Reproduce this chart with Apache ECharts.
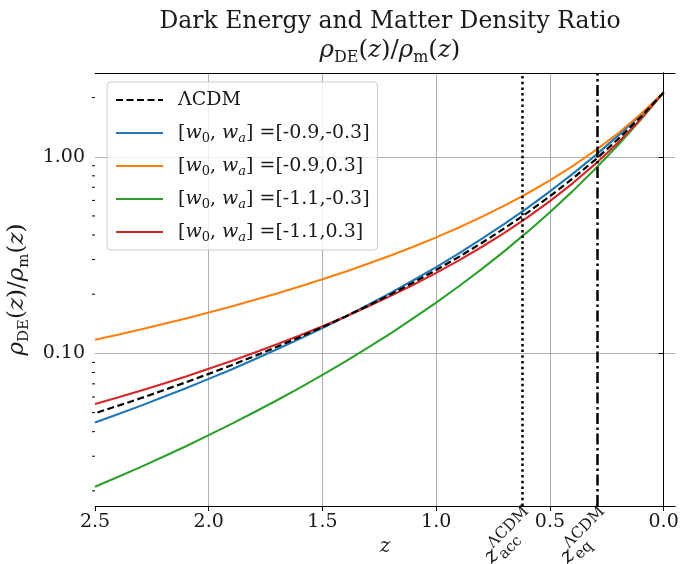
<!DOCTYPE html>
<html>
<head>
<meta charset="utf-8">
<script src="https://cdn.jsdelivr.net/npm/echarts@6/dist/echarts.min.js"></script>
<style>
  html, body { margin: 0; padding: 0; background: #ffffff; }
  #chart { width: 680px; height: 564px; }
</style>
</head>
<body>
<div id="chart"></div>
<script>
// Redshift samples
const Z = [0.0, 0.1, 0.2, 0.3, 0.4, 0.5, 0.6, 0.7, 0.8, 0.9, 1.0, 1.1, 1.2,
           1.3, 1.4, 1.5, 1.6, 1.7, 1.8, 1.9, 2.0, 2.1, 2.2, 2.3, 2.4, 2.5];

// rho_DE / rho_m for each model
const RATIO_LCDM = [2.125, 1.597, 1.230, 0.9673, 0.7744, 0.6296, 0.5188, 0.4325, 0.3644,
  0.3098, 0.2656, 0.2295, 0.1996, 0.1747, 0.1537, 0.1360, 0.1209, 0.1080, 0.0968, 0.0871,
  0.0787, 0.0713, 0.0649, 0.0591, 0.0541, 0.0496];
const RATIO_M09_M03 = [2.125, 1.636, 1.281, 1.017, 0.8184, 0.6663, 0.5484, 0.4557, 0.3821,
  0.3228, 0.2748, 0.2356, 0.2032, 0.1763, 0.1537, 0.1347, 0.1186, 0.1049, 0.0931, 0.0829,
  0.0742, 0.0665, 0.0600, 0.0541, 0.0490, 0.0445];
const RATIO_M09_P03 = [2.125, 1.649, 1.317, 1.077, 0.8967, 0.7587, 0.6507, 0.5644, 0.4945,
  0.4370, 0.3891, 0.3489, 0.3147, 0.2854, 0.2600, 0.2380, 0.2187, 0.2018, 0.1867, 0.1733,
  0.1614, 0.1506, 0.1412, 0.1322, 0.1245, 0.1173];
const RATIO_M11_M03 = [2.125, 1.546, 1.148, 0.8690, 0.6688, 0.5224, 0.4136, 0.3314, 0.2685,
  0.2196, 0.1813, 0.1510, 0.1266, 0.1069, 0.0909, 0.0777, 0.0668, 0.0578, 0.0502, 0.0438,
  0.0384, 0.0337, 0.0298, 0.0264, 0.0235, 0.0210];
const RATIO_M11_P03 = [2.125, 1.558, 1.181, 0.9199, 0.7328, 0.5949, 0.4908, 0.4105, 0.3476,
  0.2973, 0.2567, 0.2235, 0.1961, 0.1731, 0.1537, 0.1373, 0.1233, 0.1112, 0.1007, 0.0915,
  0.0835, 0.0764, 0.0702, 0.0646, 0.0597, 0.0553];

// [w0, wa] pairs, in legend order
const W_PARAMS = ['[-0.9,-0.3]', '[-0.9,0.3]', '[-1.1,-0.3]', '[-1.1,0.3]'];
const LCDM_NAME = 'ΛCDM';

// Characteristic redshifts of the LCDM model
const Z_ACC = 0.62;
const Z_EQ = 0.286;
const Z_MARK_SUBS = ['acc', 'eq'];

// Axis ticks
const X_TICKS = [0.0, 0.5, 1.0, 1.5, 2.0, 2.5];
const X_GRID = [0.0, 0.5, 1.0, 1.5, 2.0];
const Y_TICKS = [0.1, 1.0];
const Y_MINOR_TICKS = [0.02, 0.03, 0.04, 0.05, 0.06, 0.07, 0.08, 0.09,
                       0.2, 0.3, 0.4, 0.5, 0.6, 0.7, 0.8, 0.9, 2.0];
const X_MIN = -0.05, X_MAX = 2.5;
const Y_MIN = 0.01675, Y_MAX = 2.667;

const COLORS = ['#1f77b4', '#ff7f0e', '#2ca02c', '#d62728'];
const SERIF = '"DejaVu Serif", "Liberation Serif", serif';
const INK = '#1a1a1a';

// Rich-text styles for inline math: upright, italic, upright subscript, italic subscript
function mathRich(size, lh, subSize, subLh) {
  return {
    r: { fontFamily: SERIF, fontSize: size, lineHeight: lh, verticalAlign: 'middle', color: INK },
    i: { fontFamily: SERIF, fontStyle: 'italic', fontSize: size, lineHeight: lh, verticalAlign: 'middle', color: INK },
    s: { fontFamily: SERIF, fontSize: subSize, lineHeight: subLh, verticalAlign: 'bottom', color: INK },
    si: { fontFamily: SERIF, fontStyle: 'italic', fontSize: subSize, lineHeight: subLh, verticalAlign: 'bottom', color: INK }
  };
}
const RATIO_TEXT = '{i|ρ}{s|DE}{r|(}{i|z}{r|)/}{i|ρ}{s|m}{r|(}{i|z}{r|)}';

const pairs = vals => Z.map((z, k) => [z, vals[k]]);
const W_DATA = [RATIO_M09_M03, RATIO_M09_P03, RATIO_M11_M03, RATIO_M11_P03];
const seriesNames = [LCDM_NAME].concat(W_PARAMS.map(p => 'w0wa=' + p));

const series = [];
series.push({
  name: LCDM_NAME,
  type: 'line',
  data: pairs(RATIO_LCDM),
  showSymbol: false,
  symbol: 'none',
  z: 3,
  lineStyle: { color: '#000000', width: 2.2, type: [7, 3.5] },
  itemStyle: { color: '#000000' },
  markLine: {
    silent: true,
    symbol: ['none', 'none'],
    label: { show: false },
    animation: false,
    data: [
      { xAxis: Z_ACC, lineStyle: { color: '#000000', width: 2.5, type: [2.5, 3.2] } },
      { xAxis: Z_EQ, lineStyle: { color: '#000000', width: 2.5, type: [11, 3.5, 2.5, 3.5] } }
    ]
  }
});
W_DATA.forEach((vals, k) => {
  series.push({
    name: seriesNames[k + 1],
    type: 'line',
    data: pairs(vals),
    showSymbol: false,
    symbol: 'none',
    z: 2,
    lineStyle: { color: COLORS[k], width: 2.1 },
    itemStyle: { color: COLORS[k] }
  });
});

// Minor ticks of the log axis
series.push({
  type: 'custom',
  name: 'minorTicks',
  silent: true,
  clip: false,
  data: Y_MINOR_TICKS.map(v => [X_MAX, v]),
  renderItem: (params, api) => {
    const p = api.coord([X_MAX, api.value(1)]);
    return {
      type: 'line',
      shape: { x1: p[0] - 3, y1: p[1], x2: p[0], y2: p[1] },
      style: { stroke: '#000000', lineWidth: 1 }
    };
  }
});

// Rotated z_acc / z_eq labels under the axis
series.push({
  type: 'custom',
  name: 'zmarks',
  silent: true,
  clip: false,
  data: [[Z_ACC, Y_MIN], [Z_EQ, Y_MIN]],
  renderItem: (params, api) => {
    const p = api.coord([api.value(0), Y_MIN]);
    const J = -52;
    const base = { fill: INK, fontFamily: SERIF };
    return {
      type: 'group',
      x: p[0], y: p[1],
      rotation: Math.PI / 4,
      children: [
        { type: 'text', x: J, y: 14,
          style: Object.assign({ text: 'z', fontSize: 21, fontStyle: 'italic', align: 'right', verticalAlign: 'middle' }, base) },
        { type: 'text', x: J + 1, y: 5,
          style: Object.assign({ text: 'ΛCDM', fontSize: 15.5, align: 'left', verticalAlign: 'middle' }, base) },
        { type: 'text', x: J + 1, y: 21,
          style: Object.assign({ text: Z_MARK_SUBS[params.dataIndex], fontSize: 15, align: 'left', verticalAlign: 'middle' }, base) }
      ]
    };
  }
});

const chart = echarts.init(document.getElementById('chart'), null, { renderer: 'canvas' });
chart.setOption({
  animation: false,
  backgroundColor: '#ffffff',
  title: {
    text: '{t|Dark Energy and Matter Density Ratio}\n' + RATIO_TEXT,
    left: 385,
    textAlign: 'center',
    top: 3,
    textStyle: { fontFamily: SERIF, fontSize: 23.5, lineHeight: 28, color: INK, fontWeight: 'normal',
                 rich: Object.assign(mathRich(24.5, 30, 16, 20),
                   { t: { fontFamily: SERIF, fontSize: 23.5, lineHeight: 28, color: INK } }) }
  },
  grid: { left: 95, right: 5, top: 73, bottom: 58, containLabel: false, outerBoundsMode: 'none' },
  legend: {
    data: seriesNames,
    orient: 'vertical',
    left: 107,
    top: 82,
    padding: [6, 8, 6, 8],
    itemGap: 9,
    itemWidth: 47,
    itemHeight: 14,
    backgroundColor: 'rgba(255,255,255,0.8)',
    borderColor: '#cccccc',
    borderWidth: 1,
    borderRadius: 4,
    selectedMode: false,
    itemStyle: { color: 'rgba(0,0,0,0)', borderWidth: 0, opacity: 0 },
    formatter: name => {
      if (name === LCDM_NAME) return '{r|ΛCDM}';
      return '{r|[}{i|w}{s|0}{r|, }{i|w}{si|a}{r|] =' + name.split('=')[1] + '}';
    },
    textStyle: { fontFamily: SERIF, fontSize: 19, lineHeight: 24, color: INK,
                 padding: [0, 0, 0, 10], rich: mathRich(19, 24, 13, 16) }
  },
  xAxis: [
    {
      type: 'value', inverse: true, min: X_MIN, max: X_MAX, position: 'bottom',
      name: 'z', nameLocation: 'middle', nameGap: 30,
      nameTextStyle: { fontFamily: SERIF, fontStyle: 'italic', fontSize: 20, color: INK },
      axisLine: { show: true, lineStyle: { color: '#000000', width: 1 } },
      axisTick: { show: true, length: 5, lineStyle: { color: '#000000' }, customValues: X_TICKS },
      axisLabel: { show: true, margin: 7, fontFamily: SERIF, fontSize: 19, color: INK,
                   customValues: X_TICKS, formatter: v => v.toFixed(1) },
      splitLine: { show: false }
    },
    {
      type: 'value', inverse: true, min: X_MIN, max: X_MAX, position: 'top',
      axisLine: { show: true, lineStyle: { color: '#000000', width: 1 } },
      axisTick: { show: false, customValues: X_GRID },
      axisLabel: { show: false },
      splitLine: { show: true, lineStyle: { color: '#b0b0b0', width: 1 } }
    }
  ],
  yAxis: [
    {
      type: 'log', logBase: 10, min: Y_MIN, max: Y_MAX, position: 'left',
      name: RATIO_TEXT, nameLocation: 'middle', nameRotate: 90, nameGap: 56,
      nameTextStyle: { fontFamily: SERIF, fontSize: 23, lineHeight: 30, color: INK,
                       rich: mathRich(23, 30, 15, 20) },
      axisLine: { show: true, lineStyle: { color: '#000000', width: 1 } },
      axisTick: { show: true, length: 5, lineStyle: { color: '#000000' }, customValues: Y_TICKS },
      axisLabel: { show: true, margin: 10, fontFamily: SERIF, fontSize: 19, color: INK,
                   customValues: Y_TICKS, formatter: v => v.toFixed(2) },
      splitLine: { show: false }
    },
    {
      type: 'log', logBase: 10, min: Y_MIN, max: Y_MAX, position: 'right',
      axisLine: { show: true, lineStyle: { color: '#000000', width: 1 } },
      axisTick: { show: false, customValues: Y_TICKS },
      axisLabel: { show: false },
      splitLine: { show: true, lineStyle: { color: '#b0b0b0', width: 1 } }
    }
  ],
  series: series
});
</script>
</body>
</html>
